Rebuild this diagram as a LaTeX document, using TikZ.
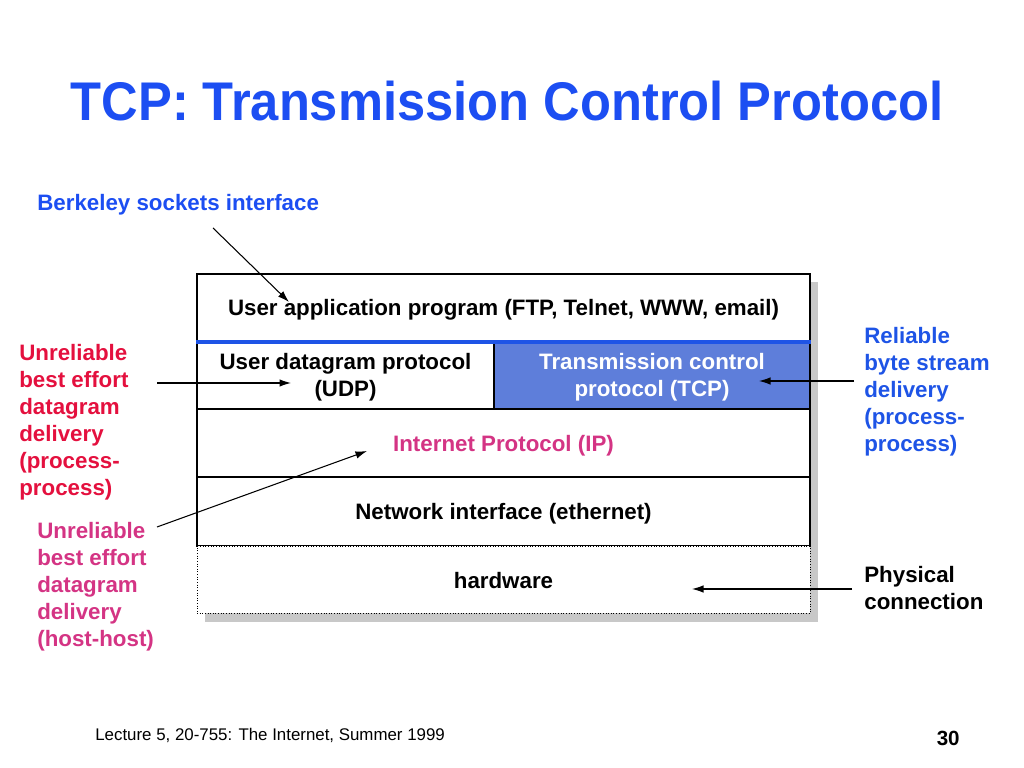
\documentclass[tikz,border=0pt]{standalone}
\usepackage{fontspec}
\setmainfont{Liberation Sans}
\usetikzlibrary{arrows.meta}
\definecolor{titleblue}{RGB}{28,78,242}
\definecolor{relblue}{RGB}{30,84,230}
\definecolor{unrelred}{RGB}{228,16,62}
\definecolor{hostpink}{RGB}{212,52,132}
\definecolor{tcpfill}{RGB}{94,126,218}
\definecolor{shadowgray}{RGB}{200,200,200}
\newcommand\bodyfont{\fontsize{12.7}{15.4}\selectfont\bfseries}
\tikzset{
	layer/.style 2 args={draw,line width=1.1pt,fill=white,minimum width=#1*0.2mm,minimum height=#2*0.2mm,inner sep=0pt,text depth=0pt,align=center,font=\bodyfont},
	note/.style={inner sep=0pt,align=left,font=\bodyfont},
	ptr/.style={line width=0.6pt,-{Latex[length=2.3mm,width=1.5mm]}}
}
\begin{document}
\begin{tikzpicture}[x=0.2mm,y=-0.2mm]
	\useasboundingbox (0,0) rectangle (1024,768);

	\node [anchor=base,text=titleblue,inner sep=0pt,font=\fontsize{31}{36}\selectfont\bfseries] (title) at (507,121) {\scalebox{0.93}[1]{TCP: Transmission Control Protocol}};
	\node [note,anchor=base west,text=titleblue] (berk) at (37,211) {Berkeley sockets interface};

	% shadow of the stack
	\fill [shadowgray] (205,282) rectangle (818,622);

	% the stack
	\node [layer={613}{67}] (app) at (503.5,307.5) {User application program (FTP, Telnet, WWW, email)};
	\node [layer={297}{68}] (udp) at (345.5,375) {User datagram protocol\\(UDP)};
	\node [layer={316}{68},fill=tcpfill,text=white] (tcp) at (652,375) {Transmission control\\protocol (TCP)};
	\node [layer={613}{68},text=hostpink] (ip) at (503.5,443) {Internet Protocol (IP)};
	\node [layer={613}{69}] (net) at (503.5,511.5) {Network interface (ethernet)};
	\node [layer={613}{67},line width=0.5pt,densely dotted] (hw) at (503.5,580) {hardware};
	\draw [relblue,line width=2.3pt] (app.south west) -- (app.south east);

	% side notes
	\node [note,anchor=north west,text=unrelred] (udpnote) at (19,344) {Unreliable\\best effort\\datagram\\delivery\\(process-\\process)};
	\node [note,anchor=north west,text=hostpink] (ipnote) at (37,522) {Unreliable\\best effort\\datagram\\delivery\\(host-host)};
	\node [note,anchor=north west,text=relblue] (tcpnote) at (864,327) {Reliable\\byte stream\\delivery\\(process-\\process)};
	\node [note,anchor=north west] (hwnote) at (864,566) {Physical\\connection};

	% arrows
	\coordinate (berktail) at (213,228);
	\coordinate (berkhead) at (289,302);
	\coordinate (udptail) at (157,383);
	\coordinate (udphead) at (291,383);
	\coordinate (iptail) at (157,527);
	\coordinate (iphead) at (367,451);
	\coordinate (tcptail) at (854,381);
	\coordinate (tcphead) at (759,381);
	\coordinate (hwtail) at (852,589);
	\coordinate (hwhead) at (692,589);
	\draw [ptr] (berktail) -- (berkhead);
	\draw [ptr] (udptail) -- (udphead);
	\draw [ptr] (iptail) -- (iphead);
	\draw [ptr] (tcptail) -- (tcphead);
	\draw [ptr] (hwtail) -- (hwhead);

	% footer
	\node [anchor=base west,inner sep=0pt,font=\fontsize{9.6}{11}\selectfont] (foot) at (95,741) {Lecture 5, 20-755: The Internet, Summer 1999};
	\node [anchor=base east,inner sep=0pt,font=\fontsize{11.7}{14}\selectfont\bfseries] (page) at (960,746) {30};
\end{tikzpicture}
\end{document}
